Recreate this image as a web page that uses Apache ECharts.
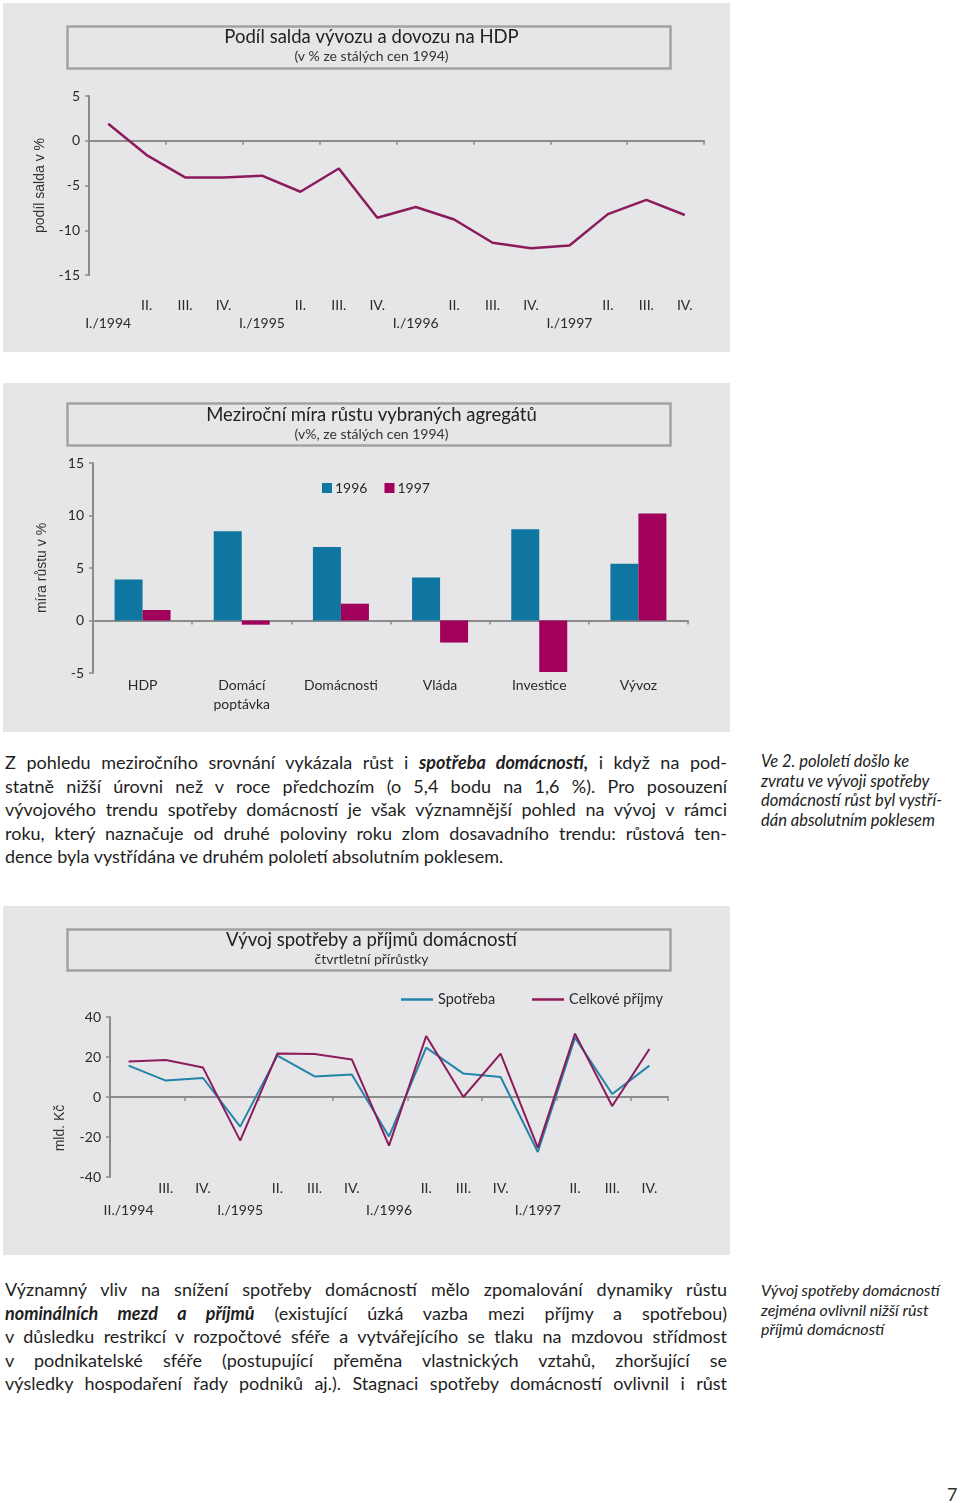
<!DOCTYPE html>
<html><head><meta charset="utf-8">
<script src="https://cdn.jsdelivr.net/npm/echarts@6/dist/echarts.min.js"></script>
<style>
html,body{margin:0;padding:0;background:#fff;}
body{width:960px;height:1503px;position:relative;overflow:hidden;font-family:'Liberation Sans Narrow','Lato',sans-serif;color:#1e1e1e;}
.panel{position:absolute;left:3px;width:727px;height:349px;background:#e6e6e8;}
.para{position:absolute;left:5px;width:722px;font-size:18px;line-height:23.5px;}
.para div{text-align:justify;text-align-last:justify;white-space:normal;}
.para div.last{text-align:left;text-align-last:left;}
.side{position:absolute;left:761px;width:199px;line-height:19.6px;font-style:italic;color:#222;}
.pn{position:absolute;left:947px;top:1483px;font-size:18px;color:#333;}
</style></head>
<body>
<div id="c1" class="panel" style="top:3px"></div>
<div id="c2" class="panel" style="top:383px"></div>
<div id="c3" class="panel" style="top:906px"></div>

<div class="para" style="top:751px">
<div>Z pohledu meziročního srovnání vykázala růst i <b><i>spotřeba domácností,</i></b> i když na pod-</div>
<div>statně nižší úrovni než v roce předchozím (o 5,4 bodu na 1,6 %). Pro posouzení</div>
<div>vývojového trendu spotřeby domácností je však významnější pohled na vývoj v rámci</div>
<div>roku, který naznačuje od druhé poloviny roku zlom dosavadního trendu: růstová ten-</div>
<div class="last">dence byla vystřídána ve druhém pololetí absolutním poklesem.</div>
</div>
<div class="side" style="top:752px;font-size:16.5px">Ve 2. pololetí došlo ke<br>zvratu ve vývoji spotřeby<br>domácností růst byl vystří-<br>dán absolutním poklesem</div>

<div class="para" style="top:1278px">
<div>Významný vliv na snížení spotřeby domácností mělo zpomalování dynamiky růstu</div>
<div><b><i>nominálních mezd a příjmů</i></b> (existující úzká vazba mezi příjmy a spotřebou)</div>
<div>v důsledku restrikcí v rozpočtové sféře a vytvářejícího se tlaku na mzdovou střídmost</div>
<div>v podnikatelské sféře (postupující přeměna vlastnických vztahů, zhoršující se</div>
<div>výsledky hospodaření řady podniků aj.). Stagnaci spotřeby domácností ovlivnil i růst</div>
</div>
<div class="side" style="top:1280px;font-size:16px">Vývoj spotřeby domácností<br>zejména ovlivnil nižší růst<br>příjmů domácností</div>

<div class="pn">7</div>

<script>
// ---- Chart 1 data ----
const quarters1 = ['I./1994','II.','III.','IV.','I./1995','II.','III.','IV.','I./1996','II.','III.','IV.','I./1997','II.','III.','IV.'];
const saldo = [1.9,-1.6,-4.1,-4.1,-3.9,-5.7,-3.1,-8.6,-7.4,-8.8,-11.4,-12.0,-11.7,-8.2,-6.6,-8.3];

// ---- Chart 2 data ----
const aggregates = ['HDP','Domácí\npoptávka','Domácnosti','Vláda','Investice','Vývoz'];
const growth1996 = [3.9,8.5,7.0,4.1,8.7,5.4];
const growth1997 = [1.0,-0.4,1.6,-2.1,-4.9,10.2];

// ---- Chart 3 data ----
const quarters3 = ['II./1994','III.','IV.','I./1995','II.','III.','IV.','I./1996','II.','III.','IV.','I./1997','II.','III.','IV.'];
const spotreba = [15.7,8.2,9.5,-14.8,20.7,10.3,11.2,-19.7,24.7,11.7,10.0,-27.5,29.7,1.5,15.7];
const prijmy = [17.7,18.5,14.7,-21.8,21.8,21.5,18.8,-24.3,30.5,0,21.7,-25.3,31.7,-4.5,24.0];

const FONT = "'Liberation Sans Narrow','Lato',sans-serif";
const AX = '#8c8c8c';
const TXT = '#2a2a2a';
const MAG_LINE = '#8c1b5b';
const BLUE = '#0f76a1';
const MAG = '#a1005b';
const BLUE_LINE = '#2384a9';

function titleBox(y, h){
  return {type:'rect', left:62, top:y, shape:{width:603, height:h},
    style:{fill:'none', stroke:'#a2a2a2', lineWidth:2.5}};
}
function titleCfg(text, sub, top){
  return {text:text, subtext:sub, left:363.5, textAlign:'center', top:top, itemGap:2,
    textStyle:{fontFamily:FONT, fontSize:18.5, fontWeight:'normal', color:'#222'},
    subtextStyle:{fontFamily:FONT, fontSize:14, color:'#333'}};
}
function yAxisCfg(min,max,interval,name,gap){
  return {type:'value', min:min, max:max, interval:interval,
    name:name, nameLocation:'middle', nameGap:gap,
    nameTextStyle:{fontFamily:"'Liberation Sans',Arial,sans-serif", fontSize:14, color:'#333'},
    axisLine:{show:true, lineStyle:{color:AX, width:2}},
    axisTick:{show:true, length:4, lineStyle:{color:AX, width:1.5}},
    axisLabel:{fontFamily:FONT, fontSize:14, color:TXT, margin:9},
    splitLine:{show:false}};
}
function lineAxis(data){
  return {type:'category', data:data, position:'bottom',
    axisLine:{onZero:true, lineStyle:{color:AX, width:2}},
    axisTick:{show:true, length:4, lineStyle:{color:AX, width:1.5}},
    axisLabel:{show:false}};
}
function labelAxis(data, margin, lh, fmt){
  return {type:'category', data:data, position:'bottom',
    axisLine:{show:false, onZero:false}, axisTick:{show:false},
    axisLabel:{show:true, interval:0, margin:margin, lineHeight:lh, fontFamily:FONT, fontSize:14, color:TXT,
      formatter: fmt}};
}

// Chart 1
const ch1 = echarts.init(document.getElementById('c1'));
ch1.setOption({
  animation:false,
  title: titleCfg('Podíl salda vývozu a dovozu na HDP','(v % ze stálých cen 1994)',20),
  graphic:[titleBox(21,42)],
  grid:{left:86, right:26, top:93, bottom:77},
  xAxis:[lineAxis(quarters1), labelAxis(quarters1, 21, 18, v => v.indexOf('/')>=0 ? '\n'+v : v)],
  yAxis: yAxisCfg(-15,5,5,'podíl salda v %',42),
  series:[{type:'line', data:saldo, xAxisIndex:0, symbol:'none', lineStyle:{color:MAG_LINE, width:2.5}, itemStyle:{color:MAG_LINE}}]
});

// Chart 2
const ch2 = echarts.init(document.getElementById('c2'));
ch2.setOption({
  animation:false,
  title: titleCfg('Meziroční míra růstu vybraných agregátů','(v%, ze stálých cen 1994)',18),
  graphic:[titleBox(18,42)],
  legend:{left:314, top:93, itemWidth:10, itemHeight:10, itemGap:17, icon:'rect',
    textStyle:{fontFamily:FONT, fontSize:14, color:TXT, padding:[0,0,0,-2]}, data:['1996','1997']},
  grid:{left:90, right:42, top:80, bottom:59},
  xAxis:[
    {type:'category', data:aggregates, position:'bottom',
      axisLine:{onZero:true, lineStyle:{color:AX, width:2}},
      axisTick:{show:true, length:4, lineStyle:{color:AX, width:1.5}},
      axisLabel:{show:false}},
    labelAxis(aggregates, 3, 19, v => v)
  ],
  yAxis: yAxisCfg(-5,15,5,'míra růstu v %',44),
  series:[
    {name:'1996', type:'bar', data:growth1996, xAxisIndex:0, barWidth:28, barGap:'0%', itemStyle:{color:BLUE}},
    {name:'1997', type:'bar', data:growth1997, xAxisIndex:0, barWidth:28, barGap:'0%', itemStyle:{color:MAG}}
  ]
});

// Chart 3
const ch3 = echarts.init(document.getElementById('c3'));
ch3.setOption({
  animation:false,
  title: titleCfg('Vývoj spotřeby a příjmů domácností','čtvrtletní přírůstky',20),
  graphic:[titleBox(21,41),
    {type:'text', x:57, y:222, rotation:Math.PI/2,
      style:{text:'mld. Kč', fontFamily:"'Liberation Sans',Arial,sans-serif", fontSize:14, fill:'#333', align:'center', verticalAlign:'middle'}}],
  legend:{left:393, top:81, itemWidth:32, itemHeight:2.5, itemGap:37, icon:'rect',
    textStyle:{fontFamily:FONT, fontSize:14.5, color:TXT}, data:['Spotřeba','Celkové příjmy']},
  grid:{left:107, right:62, top:111, bottom:78},
  xAxis:[lineAxis(quarters3), labelAxis(quarters3, 0, 22, v => v.indexOf('/')>=0 ? '\n'+v : v)],
  yAxis: yAxisCfg(-40,40,20,'',0),
  series:[
    {name:'Spotřeba', type:'line', data:spotreba, xAxisIndex:0, symbol:'none', lineStyle:{color:BLUE_LINE, width:2}, itemStyle:{color:BLUE_LINE}},
    {name:'Celkové příjmy', type:'line', data:prijmy, xAxisIndex:0, symbol:'none', lineStyle:{color:MAG_LINE, width:2}, itemStyle:{color:MAG_LINE}}
  ]
});
</script>
</body></html>
